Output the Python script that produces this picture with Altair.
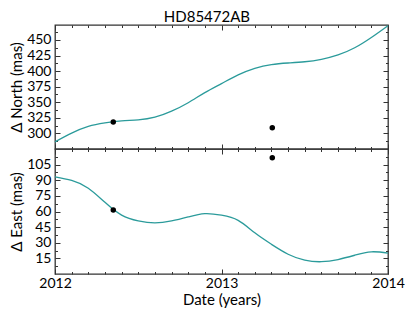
import altair as alt
import pandas as pd

# model curves
curve_years = [2012.0, 2012.1, 2012.2, 2012.3, 2012.4, 2012.5, 2012.6, 2012.7, 2012.8, 2012.9,
               2013.0, 2013.1, 2013.2, 2013.3, 2013.4, 2013.5, 2013.6, 2013.7, 2013.8, 2013.9, 2014.0]
north_curve = [286.5, 300.5, 311.3, 316.8, 320.0, 321.7, 326.0, 335.7, 349.3, 365.5,
               380.0, 394.0, 404.5, 410.5, 413.0, 415.0, 419.0, 426.0, 437.5, 454.0, 473.0]
east_curve = [93.3, 89.8, 82.4, 68.8, 56.5, 50.9, 49.0, 50.9, 54.8, 58.0,
              56.5, 51.5, 39.5, 28.5, 19.0, 13.3, 11.8, 13.9, 18.0, 21.3, 20.0]

# observations
obs_years = [2012.35, 2013.305]
obs_north = [318.5, 309.0]
obs_east = [61.5, 111.5]

# axis ticks
x_major = [2012, 2013, 2014]
x_minor = [round(2012 + i / 10, 1) for i in range(1, 20) if i != 10]
north_major = [300, 325, 350, 375, 400, 425, 450]
north_minor = [287.5, 312.5, 337.5, 362.5, 387.5, 412.5, 437.5, 462.5]
east_major = [15, 30, 45, 60, 75, 90, 105]
east_minor = [7.5, 22.5, 37.5, 52.5, 67.5, 82.5, 97.5, 112.5]

LINE = "#2b9b9b"
FRAME = "#333333"
FONT = "Lato"

W = 333


def panel(vals, obs, ydomain, ymajor, yminor, ytitle, height, bottom):
    line_df = pd.DataFrame({"t": curve_years, "v": vals})
    pts_df = pd.DataFrame({"t": obs_years, "v": obs})
    xs = alt.Scale(domain=[2012, 2014], nice=False, zero=False)
    ys = alt.Scale(domain=ydomain, nice=False, zero=False)

    lbl = dict(labelFont=FONT, labelFontSize=14, labelColor="black", labelOverlap=False,
               titleFont=FONT, titleFontSize=15, titleFontWeight="normal", titleColor="black")

    main = alt.Chart(line_df).mark_line(color=LINE, strokeWidth=1.3, interpolate="natural").encode(
        x=alt.X("t:Q", scale=xs, axis=None),
        y=alt.Y("v:Q", scale=ys, axis=alt.Axis(values=ymajor, ticks=False, tickSize=0, domain=False,
                                              grid=False, title=ytitle, labelPadding=4,
                                              titlePadding=2, **lbl)),
    )
    pts = alt.Chart(pts_df).mark_circle(color="black", size=30, opacity=1).encode(
        x=alt.X("t:Q", scale=xs, axis=None),
        y=alt.Y("v:Q", scale=ys, axis=None),
    )

    def tick_layer(xorient, yorient, xvals, yvals, size):
        return alt.Chart(line_df).mark_line(strokeOpacity=0).encode(
            x=alt.X("t:Q", scale=xs, axis=alt.Axis(orient=xorient, values=xvals, labels=False,
                                                  domain=False, grid=False, title=None,
                                                  tickSize=size, offset=-size, tickColor=FRAME,
                                                  tickWidth=1)),
            y=alt.Y("v:Q", scale=ys, axis=alt.Axis(orient=yorient, values=yvals, labels=False,
                                                  domain=False, grid=False, title=None,
                                                  tickSize=size, offset=-size, tickColor=FRAME,
                                                  tickWidth=1)),
        )

    layers = [
        main,
        tick_layer("bottom", "left", x_major, ymajor, 5),
        tick_layer("bottom", "left", x_minor, yminor, 2.5),
        tick_layer("top", "right", x_major, ymajor, 5),
        tick_layer("top", "right", x_minor, yminor, 2.5),
    ]
    if bottom:
        xlab = alt.Chart(line_df).mark_line(strokeOpacity=0).encode(
            x=alt.X("t:Q", scale=xs,
                    axis=alt.Axis(orient="bottom", values=x_major, labelExpr="format(datum.value, 'd')",
                                  labelFlush=False, ticks=False, tickSize=0, domain=False,
                                  grid=False, title="Date (years)", labelPadding=2,
                                  titlePadding=2, **lbl)),
            y=alt.Y("v:Q", scale=ys, axis=None),
        )
        layers.append(xlab)
    layers.append(pts)
    return alt.layer(*layers).resolve_axis(x="independent", y="independent").properties(
        width=W, height=height
    )


top = panel(north_curve, obs_north, [275, 474], north_major, north_minor, "Δ North (mas)", 124, False)
bot = panel(east_curve, obs_east, [0, 120], east_major, east_minor, "Δ East (mas)", 125, True)

chart = alt.vconcat(top, bot, spacing=0, bounds="flush").properties(
    title=alt.Title("HD85472AB", fontSize=15, font=FONT, fontWeight="normal", color="black",
                    anchor="middle", offset=-3),
    padding={"left": 0, "top": 2, "right": 0, "bottom": 0},
    background="white",
).configure_view(
    stroke=FRAME, strokeWidth=1.3
)

chart.save("out.html", embed_options={"renderer": "svg", "actions": False})
